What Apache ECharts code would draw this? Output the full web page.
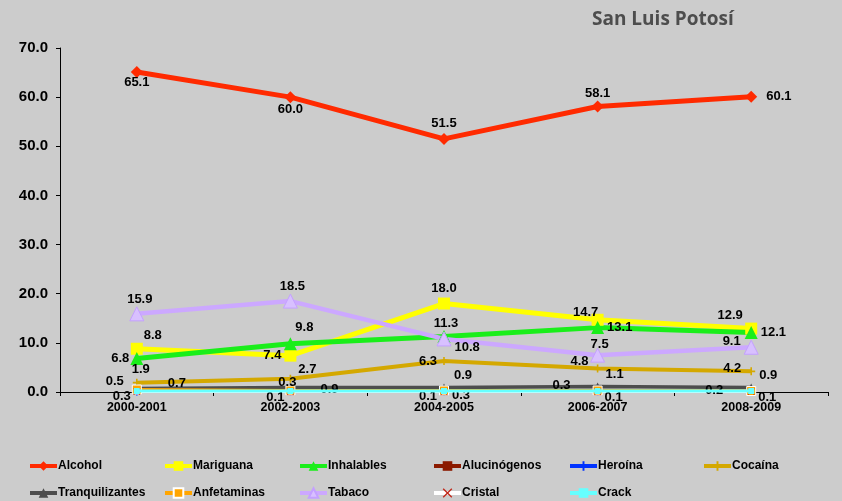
<!DOCTYPE html>
<html>
<head>
<meta charset="utf-8">
<script src="https://cdn.jsdelivr.net/npm/echarts@6/dist/echarts.min.js"></script>
<style>
  html, body { margin: 0; padding: 0; background: #cccccc; }
  #chart { width: 842px; height: 501px; }
</style>
</head>
<body>
<div id="chart"></div>
<script>
const periods = ["2000-2001", "2002-2003", "2004-2005", "2006-2007", "2008-2009"];
const yTicks = [0, 10, 20, 30, 40, 50, 60, 70];

const alcohol = [65.1, 60.0, 51.5, 58.1, 60.1];
const mariguana = [8.8, 7.4, 18.0, 14.7, 12.9];
const inhalables = [6.8, 9.8, 11.3, 13.1, 12.1];
const alucinogenos = [0.3, 0.1, 0.1, 0.1, 0.1];
const heroina = [0.1, 0.1, 0.1, 0.1, 0.1];
const cocaina = [1.9, 2.7, 6.3, 4.8, 4.2];
const tranquilizantes = [0.7, 0.9, 0.9, 1.1, 0.9];
const anfetaminas = [0.5, 0.3, 0.3, 0.3, 0.2];
const tabaco = [15.9, 18.5, 10.8, 7.5, 9.1];
const cristal = [0.1, 0.1, 0.1, 0.1, 0.1];
const crack = [0.2, 0.2, 0.2, 0.2, 0.2];

// label placement per point: [position, dx, dy]
const alcoholLbl = [["bottom", 0, -5], ["bottom", 0, -3], ["top", 0, 0], ["top", 0, 2], ["right", 6, 0]];
const mariguanaLbl = [["top", 16, 2], ["left", 0, 0], ["top", 0, 0], ["top", -12, 8], ["top", -21, 2]];
const inhalablesLbl = [["left", 2, 0], ["top", 14, 0], ["top", 2, 3], ["right", 0, 0], ["right", 0, 0]];
const tabacoLbl = [["top", 3, 3], ["top", 2, 2], ["right", 0, 8], ["top", 2, 6], ["left", 0, -6]];
const cocainaLbl = [["top", 4, 0], ["top", 17, 4], ["left", 0, 0], ["left", -2, -7], ["left", -3, -3]];
const tranqLbl = [["right", 24, -5], ["right", 23, 2], ["right", 3, -12], ["right", 1, -12], ["right", 1, -12]];
const anfetLbl = [["left", -5, -8], ["top", -3, 6], ["right", 0, 5], ["left", -19, -5], ["left", -20, -1]];
const alucLbl = [["left", 1, 6], ["left", 1, 6], ["left", 0, 5], ["right", 0, 6], ["right", 0, 6]];

const plusPath = "path://M4,0 L6,0 L6,4 L10,4 L10,6 L6,6 L6,10 L4,10 L4,6 L0,6 L0,4 L4,4 Z";
const xPath = "path://M0,1 L1,0 L5,4 L9,0 L10,1 L6,5 L10,9 L9,10 L5,6 L1,10 L0,9 L4,5 Z";

const labelFont = { fontFamily: "'Liberation Sans', Arial, sans-serif", fontWeight: "bold", fontSize: 13, color: "#000" };

function makeSeries(name, values, spec, color, opts) {
  opts = opts || {};
  return {
    name: name,
    type: "line",
    data: spec ? values.map((v, i) => ({ value: v, label: { position: spec[i][0] } })) : values,
    symbol: opts.symbol || "circle",
    symbolSize: opts.symbolSize || 8,
    showAllSymbol: true,
    lineStyle: { color: color, width: opts.width || 4 },
    itemStyle: {
      color: opts.markerColor || color,
      borderColor: opts.borderColor || opts.markerColor || color,
      borderWidth: opts.borderWidth || 0
    },
    label: Object.assign({
      show: !!spec,
      distance: 3,
      formatter: p => Number(p.value).toFixed(1)
    }, labelFont),
    labelLayout: spec ? (p => ({ dx: spec[p.dataIndex][1], dy: spec[p.dataIndex][2] })) : undefined,
    emphasis: { disabled: true },
    animation: false,
    z: opts.z || 2
  };
}

const series = [
  makeSeries("Alcohol", alcohol, alcoholLbl, "#ff2a00", { symbol: "diamond", symbolSize: 12, width: 5 }),
  makeSeries("Mariguana", mariguana, mariguanaLbl, "#ffff00", { symbol: "rect", symbolSize: 12, width: 5 }),
  makeSeries("Inhalables", inhalables, inhalablesLbl, "#1aee1a", { symbol: "triangle", symbolSize: 13, width: 5 }),
  makeSeries("Alucinógenos", alucinogenos, alucLbl, "#8b1a00", { symbol: "rect", symbolSize: 8, width: 3 }),
  makeSeries("Heroína", heroina, null, "#0033ff", { symbol: plusPath, symbolSize: 8, width: 3 }),
  makeSeries("Cocaína", cocaina, cocainaLbl, "#d4a800", { symbol: plusPath, symbolSize: 8, width: 4 }),
  makeSeries("Tranquilizantes", tranquilizantes, tranqLbl, "#4d4d4d", { symbol: "triangle", symbolSize: 8, width: 3.5 }),
  makeSeries("Anfetaminas", anfetaminas, anfetLbl, "#ffa500", { symbol: "rect", symbolSize: 9, width: 3, borderColor: "#ffffff", borderWidth: 1 }),
  makeSeries("Tabaco", tabaco, tabacoLbl, "#cca8ff", { symbol: "triangle", symbolSize: 14, width: 4.5, markerColor: "#d8c0ff", borderColor: "#c4a0ff", borderWidth: 1 }),
  makeSeries("Cristal", cristal, null, "#ffffff", { symbol: xPath, symbolSize: 7, width: 3, markerColor: "#c0281a" }),
  makeSeries("Crack", crack, null, "#66ffff", { symbol: "rect", symbolSize: 6, width: 3, z: 3 })
];

// legend: two rows of six fixed columns
const legendCols = [28, 163, 298, 432, 568, 702];
const legendRows = [466, 493];
const legends = series.map((s, i) => ({
  data: [s.name],
  left: legendCols[i % 6],
  top: legendRows[Math.floor(i / 6)] - 6,
  itemWidth: 27,
  itemHeight: 12,
  itemGap: 0,
  padding: 0,
  selectedMode: false,
  lineStyle: { width: 4 },
  textStyle: {
    fontFamily: "'Liberation Sans', Arial, sans-serif",
    fontWeight: "bold",
    fontSize: 12,
    color: "#000",
    padding: [0, 0, 0, -4]
  }
}));

const chart = echarts.init(document.getElementById("chart"), null, { renderer: "canvas" });
chart.setOption({
  backgroundColor: "#cccccc",
  animation: false,
  title: {
    text: "San Luis Potosí",
    left: 587,
    top: 5,
    textStyle: { fontFamily: "'Open Sans', 'Liberation Sans', sans-serif", fontWeight: "bold", fontSize: 19, color: "#4d4d4d" }
  },
  legend: legends,
  grid: { left: 60, right: 14, top: 48, bottom: 109, containLabel: false },
  xAxis: {
    type: "category",
    data: periods,
    boundaryGap: true,
    axisLine: { lineStyle: { color: "#000", width: 1 } },
    axisTick: { show: true, length: 4, lineStyle: { color: "#000" } },
    axisLabel: { margin: 9, fontFamily: "'Liberation Sans', Arial, sans-serif", fontWeight: "bold", fontSize: 12.5, color: "#000" },
    splitLine: { show: false }
  },
  yAxis: {
    type: "value",
    min: yTicks[0],
    max: yTicks[yTicks.length - 1],
    interval: yTicks[1] - yTicks[0],
    axisLine: { show: true, lineStyle: { color: "#000", width: 1 } },
    axisTick: { show: true, length: 4, lineStyle: { color: "#000" } },
    axisLabel: {
      margin: 12,
      formatter: v => v.toFixed(1),
      fontFamily: "'Liberation Sans', Arial, sans-serif",
      fontWeight: "bold",
      fontSize: 15,
      color: "#000"
    },
    splitLine: { show: false }
  },
  series: series
});
</script>
</body>
</html>
